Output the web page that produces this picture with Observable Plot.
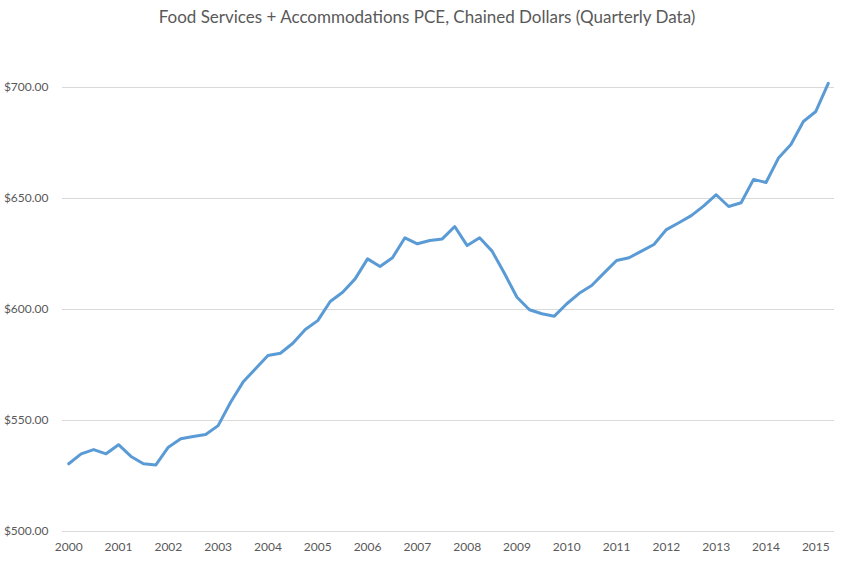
<!DOCTYPE html>
<html>
<head>
<meta charset="utf-8">
<script src="https://cdn.jsdelivr.net/npm/d3@7"></script>
<script src="https://cdn.jsdelivr.net/npm/@observablehq/plot@0.6"></script>
<style>
  html, body { margin: 0; padding: 0; background: #fff; }
  #title { height: 33px; line-height: 33px; text-align: center; font-family: Lato, "Open Sans", sans-serif; font-size: 17px; color: #595959; }
</style>
</head>
<body>
<div id="title">Food Services + Accommodations PCE, Chained Dollars (Quarterly Data)</div>
<div id="chart"></div>
<script>
const years = [2000,2001,2002,2003,2004,2005,2006,2007,2008,2009,2010,2011,2012,2013,2014,2015];
const quarters = ["Q1","Q2","Q3","Q4"];
const pce = [
  530.5, 535.0, 536.9, 535.0,
  539.1, 533.8, 530.5, 530.0,
  538.0, 541.8, 542.8, 543.7,
  547.7, 558.2, 567.3, 573.3,
  579.3, 580.3, 584.8, 591.0,
  595.0, 603.6, 607.8, 613.8,
  622.8, 619.4, 623.3, 632.3,
  629.6, 631.1, 631.8, 637.4,
  628.8, 632.3, 626.3, 616.2,
  605.5, 599.9, 598.1, 597.0,
  602.6, 607.3, 610.8, 616.5,
  622.1, 623.3, 626.3, 629.3,
  636.0, 639.1, 642.3, 646.7,
  651.7, 646.4, 648.1, 658.6,
  657.2, 668.2, 674.3, 684.7,
  689.2, 701.9
];
const yTicks = [500, 550, 600, 650, 700];

const data = pce.map((v, i) => ({
  i,
  year: years[Math.floor(i / 4)],
  quarter: quarters[i % 4],
  value: v
}));
const xTicks = years.map((y, k) => k * 4);

const chart = Plot.plot({
  width: 854,
  height: 528,
  marginTop: 54,
  marginBottom: 30,
  marginLeft: 62,
  marginRight: 20,
  style: { fontFamily: "Lato, 'Open Sans', sans-serif", fontSize: "12px", color: "#595959", background: "#fff" },
  x: { domain: [-0.5, pce.length - 0.5], ticks: xTicks, tickFormat: d => String(years[d / 4]), tickSize: 0, tickPadding: 11, label: null },
  y: { domain: [500, 700], ticks: yTicks, tickFormat: d => "$" + d.toFixed(2), tickSize: 0, tickPadding: 14, label: null },
  marks: [
    Plot.gridY(yTicks, { stroke: "#D9D9D9", strokeOpacity: 1, strokeWidth: 1 }),
    Plot.line(data, { x: "i", y: "value", stroke: "#5B9BD5", strokeWidth: 3, strokeLinejoin: "round", strokeLinecap: "round" })
  ]
});
document.getElementById("chart").appendChild(chart);
</script>
</body>
</html>
